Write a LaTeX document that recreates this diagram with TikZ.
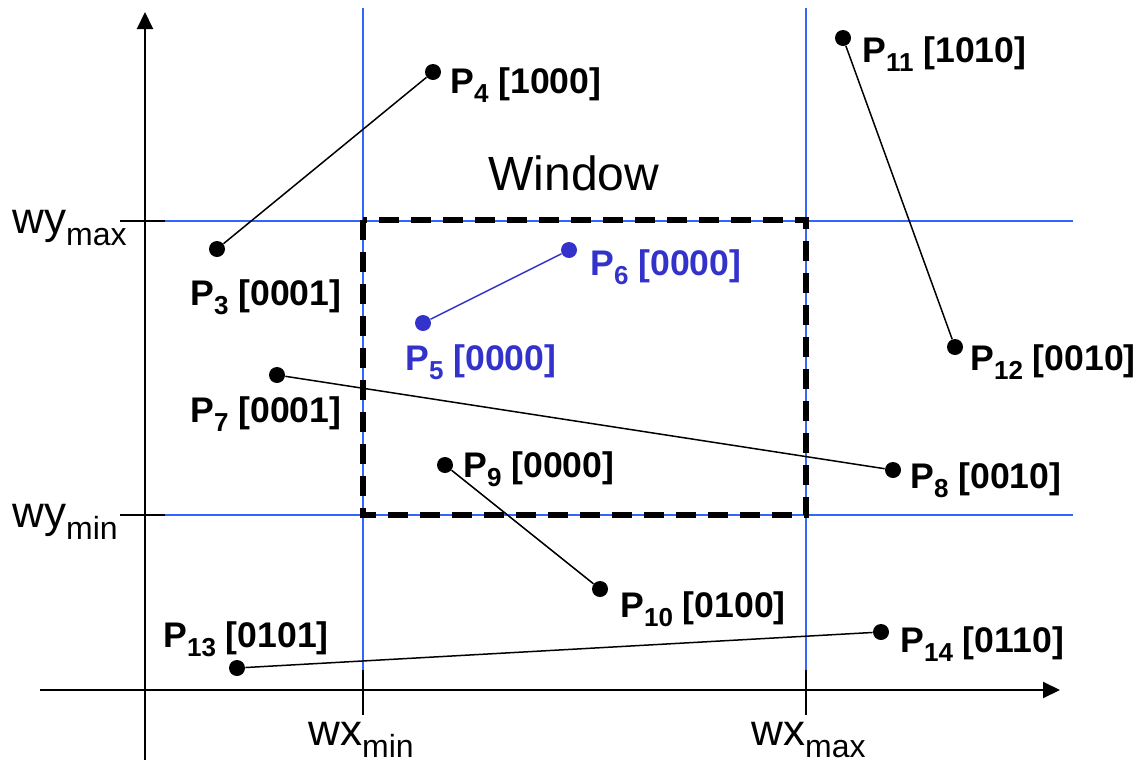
\documentclass[tikz,border=0pt]{standalone}
\usepackage{fontspec}
\setmainfont{Liberation Sans}
\usetikzlibrary{arrows.meta}
\definecolor{gridblue}{RGB}{51,102,255}
\definecolor{inblue}{RGB}{51,51,204}
\newcommand{\lsub}[1]{\raisebox{-4.5pt}{\fontsize{13}{13}\selectfont #1}}
\newcommand{\pl}[2]{P\lsub{#1} [#2]}
\newcommand{\axsub}[1]{\raisebox{-6pt}{\fontsize{16}{16}\selectfont #1}}

\begin{document}
\begin{tikzpicture}[x=0.5pt,y=-0.5pt]
            \tikzset{pt/.style={circle, fill, inner sep=0pt, minimum size=8pt},
                     lbl/.style={inner sep=0pt, anchor=base west, font=\fontsize{17.8}{20}\selectfont\bfseries},
                     axlbl/.style={inner sep=0pt, anchor=base west, font=\fontsize{22}{26}\selectfont},
                     gridline/.style={gridblue, line width=0.75pt},
                     tick/.style={black, line width=0.9pt}}
            \useasboundingbox (0,0) rectangle (1142,761);

            \coordinate (ytop) at (145,12);
            \coordinate (ybot) at (145,760);
            \coordinate (xl) at (40,690);
            \coordinate (xr) at (1060,690);
            \draw[line width=1pt, -{Triangle[length=8.5pt,width=8pt]}] (ybot) -- (ytop);
            \draw[line width=1pt, -{Triangle[length=8.5pt,width=8pt]}] (xl) -- (xr);

            \coordinate (ymaxa) at (120,221);
            \coordinate (ymaxb) at (165,221);
            \coordinate (ymaxc) at (1073,221);
            \coordinate (ymina) at (120,515);
            \coordinate (yminb) at (165,515);
            \coordinate (yminc) at (1073,515);
            \coordinate (xmina) at (363,715);
            \coordinate (xminb) at (363,670);
            \coordinate (xminc) at (363,8);
            \coordinate (xmaxa) at (806,715);
            \coordinate (xmaxb) at (806,670);
            \coordinate (xmaxc) at (806,8);
            \draw[gridline] (ymaxb) -- (ymaxc);
            \draw[gridline] (yminb) -- (yminc);
            \draw[gridline] (xminb) -- (xminc);
            \draw[gridline] (xmaxb) -- (xmaxc);
            \draw[tick] (ymaxa) -- (ymaxb);
            \draw[tick] (ymina) -- (yminb);
            \draw[tick] (xmina) -- (xminb);
            \draw[tick] (xmaxa) -- (xmaxb);

            \coordinate (wtl) at (363,220);
            \coordinate (wbr) at (806,515);
            \draw[line width=2.75pt, dash pattern=on 10pt off 6pt] (wtl) rectangle (wbr);

            \node[axlbl] (wymax) at (12,233) {wy\axsub{max}};
            \node[axlbl] (wymin) at (12,527) {wy\axsub{min}};
            \node[axlbl] (wxmin) at (308,745) {wx\axsub{min}};
            \node[axlbl] (wxmax) at (751,745) {wx\axsub{max}};
            \node[axlbl, font=\fontsize{24}{28}\selectfont] (win) at (488,190) {Window};

            \node[pt] (p3) at (217,249) {};
            \node[pt] (p4) at (433,72) {};
            \node[pt, inblue] (p5) at (423,323) {};
            \node[pt, inblue] (p6) at (569,250) {};
            \node[pt] (p7) at (277,375) {};
            \node[pt] (p8) at (893,470) {};
            \node[pt] (p9) at (445,465) {};
            \node[pt] (p10) at (600,589) {};
            \node[pt] (p11) at (843,38) {};
            \node[pt] (p12) at (955,347) {};
            \node[pt] (p13) at (237,668) {};
            \node[pt] (p14) at (881,632) {};

            \draw[line width=0.75pt] (p3) -- (p4);
            \draw[line width=0.75pt, inblue] (p5) -- (p6);
            \draw[line width=0.75pt] (p7) -- (p8);
            \draw[line width=0.75pt] (p9) -- (p10);
            \draw[line width=0.75pt] (p11) -- (p12);
            \draw[line width=0.75pt] (p13) -- (p14);

            \node[lbl] (l3) at (190,305) {\pl{3}{0001}};
            \node[lbl] (l4) at (450,93) {\pl{4}{1000}};
            \node[lbl, inblue] (l5) at (405,370) {\pl{5}{0000}};
            \node[lbl, inblue] (l6) at (590,275) {\pl{6}{0000}};
            \node[lbl] (l7) at (190,422) {\pl{7}{0001}};
            \node[lbl] (l8) at (910,488) {\pl{8}{0010}};
            \node[lbl] (l9) at (463,477) {\pl{9}{0000}};
            \node[lbl] (l10) at (620,617) {\pl{10}{0100}};
            \node[lbl] (l11) at (862,62) {\pl{11}{1010}};
            \node[lbl] (l12) at (970,370) {\pl{12}{0010}};
            \node[lbl] (l13) at (163,647) {\pl{13}{0101}};
            \node[lbl] (l14) at (900,652) {\pl{14}{0110}};
        \end{tikzpicture}
\end{document}
